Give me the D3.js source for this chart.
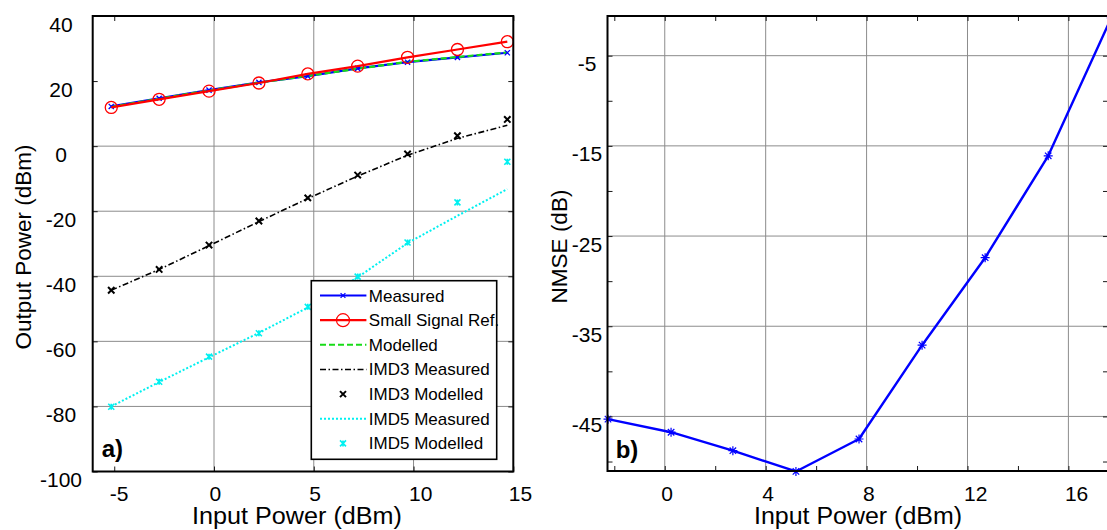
<!DOCTYPE html>
<html>
<head>
<meta charset="utf-8">
<script src="https://cdn.jsdelivr.net/npm/d3@7"></script>
<style>
  html, body { margin: 0; padding: 0; background: #fff; }
  svg { display: block; }
</style>
</head>
<body>
<svg id="chart" width="1107" height="530"></svg>
<script>
// ---- Panel a): output power vs input power (fundamental and intermodulation) ----
const inputPowerA   = [-5.15, -2.75, -0.25, 2.25, 4.7, 7.2, 9.7, 12.2, 14.7];
const measured      = [12.2, 14.7, 17.2, 19.6, 21.5, 23.9, 25.8, 27.3, 28.7];
const smallSignal   = [11.9, 14.4, 16.9, 19.4, 22.2, 24.6, 27.3, 29.7, 32.1];
const modelled      = [12.1, 14.6, 17.1, 19.5, 21.6, 23.8, 25.9, 27.4, 28.8];
const imd3Measured  = [-44.3, -37.9, -30.6, -23.2, -16.1, -9.2, -2.8, 2.4, 6.4];
const imd3Modelled  = [-44.3, -37.9, -30.4, -23.0, -15.9, -8.9, -2.4, 3.2, 8.2];
const imd5Measured  = [-80.0, -72.5, -64.9, -57.4, -49.6, -40.3, -29.8, -21.4, -13.2];
const imd5Modelled  = [-80.1, -72.4, -64.7, -57.5, -49.4, -40.1, -29.6, -17.3, -4.8];

// ---- Panel b): NMSE vs input power ----
const inputPowerB = [-2.25, 0.25, 2.7, 5.2, 7.7, 10.2, 12.7, 15.2, 17.7];
const nmse        = [-45.3, -46.75, -48.8, -51.1, -47.5, -37.1, -27.4, -16.1, -0.8];

// ---- Tick values and labels ----
const xTicksA  = [-5, 0, 5, 10, 15];
const xGridA   = [0, 5, 10];
const yTicksA  = [40, 20, 0, -20, -40, -60, -80, -100];
const yGridA   = [0, -20, -40, -60, -80];
const xTicksB  = [-2, 0, 2, 4, 6, 8, 10, 12, 14, 16];
const xLabelsB = [0, 4, 8, 12, 16];
const yTicksB  = [-5, -10, -15, -20, -25, -30, -35, -40, -45, -50];
const yLabelsB = [-5, -15, -25, -35, -45];

const legendLabels = ["Measured", "Small Signal Ref.", "Modelled", "IMD3 Measured",
                      "IMD3 Modelled", "IMD5 Measured", "IMD5 Modelled"];

const FONT = '"Liberation Sans", Arial, Helvetica, sans-serif';
const BLUE = "#0000ff", RED = "#ff0000", GREEN = "#18dc18", CYAN = "#00f0f0";

const svg = d3.select("#chart");

// scales
const xA = d3.scaleLinear().domain([-6.08, 15]).range([92.7, 513.3]);
const yA = d3.scaleLinear().domain([-100, 40]).range([471.5, 16]);
const xB = d3.scaleLinear().domain([-2.27, 17.57]).range([607.5, 1108]);
const yB = d3.scaleLinear().domain([-51.05, -0.6]).range([471, 16]);

// ---- helpers ----
function drawGrid(x, y, xg, yg) {
  const [x0, x1] = x.range(), [yb, yt] = y.range();
  const g = svg.append("g").attr("stroke", "#8c8c8c").attr("stroke-width", 1);
  g.selectAll(null).data(xg).join("line")
    .attr("x1", d => x(d)).attr("x2", d => x(d)).attr("y1", yt).attr("y2", yb);
  g.selectAll(null).data(yg).join("line")
    .attr("x1", x0).attr("x2", x1).attr("y1", d => y(d)).attr("y2", d => y(d));
}

function drawAxes(x, y, o) {
  const [x0, x1] = x.range(), [yb, yt] = y.range();
  const T = 5;
  const style = sel => {
    sel.attr("font-family", FONT).attr("font-size", 21);
    sel.select(".domain").remove();
    sel.selectAll(".tick line").attr("stroke", "#1a1a1a").attr("stroke-width", 1);
    sel.selectAll(".tick text").attr("fill", "#000");
  };
  // bottom
  svg.append("g").attr("transform", `translate(0,${yb})`)
    .call(d3.axisBottom(x).tickValues(o.xTicks).tickSizeInner(-T).tickSizeOuter(0)
      .tickFormat(d => o.xLabels.includes(d) ? String(d) : ""))
    .call(style)
    .call(g => g.selectAll(".tick text")
      .attr("y", o.xLabelBase - yb).attr("dy", null)
      .attr("x", o.xLabelShift).attr("text-anchor", "start"));
  // top
  svg.append("g").attr("transform", `translate(0,${yt})`)
    .call(d3.axisTop(x).tickValues(o.xTicks).tickSizeInner(-T).tickSizeOuter(0).tickFormat(""))
    .call(style);
  // left
  svg.append("g").attr("transform", `translate(${x0},0)`)
    .call(d3.axisLeft(y).tickValues(o.yTicks).tickSizeInner(-T).tickSizeOuter(0)
      .tickFormat(d => o.yLabels.includes(d) ? String(d) : ""))
    .call(style)
    .call(g => g.selectAll(".tick text")
      .attr("x", o.yLabelCenter - x0).attr("y", 15).attr("dy", null)
      .attr("text-anchor", "middle"));
  // right
  svg.append("g").attr("transform", `translate(${x1},0)`)
    .call(d3.axisRight(y).tickValues(o.yTicks).tickSizeInner(-T).tickSizeOuter(0).tickFormat(""))
    .call(style);
  // frame
  svg.append("rect").attr("x", x0).attr("y", yt).attr("width", x1 - x0).attr("height", yb - yt)
    .attr("fill", "none").attr("stroke", "#000").attr("stroke-width", 2);
}

function crossPath(cx, cy, s) {
  return `M${cx - s},${cy - s}L${cx + s},${cy + s}M${cx - s},${cy + s}L${cx + s},${cy - s}`;
}
function starPath(cx, cy, s) {
  const d = s * 0.72;
  return `M${cx - s},${cy}L${cx + s},${cy}M${cx},${cy - s}L${cx},${cy + s}` +
         `M${cx - d},${cy - d}L${cx + d},${cy + d}M${cx - d},${cy + d}L${cx + d},${cy - d}`;
}
function imd5Path(cx, cy, s) {
  return crossPath(cx, cy, s) + `M${cx},${cy - s}L${cx},${cy + s}`;
}

function series(x, y, xs, ys) { return xs.map((v, i) => [x(v), y(ys[i])]); }

function line(pts, color, width, dash) {
  svg.append("path").attr("d", d3.line()(pts)).attr("fill", "none")
    .attr("stroke", color).attr("stroke-width", width)
    .attr("stroke-dasharray", dash || null).attr("stroke-linejoin", "round");
}
function marks(pts, pathFn, size, color, width) {
  svg.append("g").selectAll(null).data(pts).join("path")
    .attr("d", p => pathFn(p[0], p[1], size)).attr("fill", "none")
    .attr("stroke", color).attr("stroke-width", width);
}
function circles(pts, r, color, width) {
  svg.append("g").selectAll(null).data(pts).join("circle")
    .attr("cx", p => p[0]).attr("cy", p => p[1]).attr("r", r)
    .attr("fill", "none").attr("stroke", color).attr("stroke-width", width);
}

// ================= Panel a) =================
drawGrid(xA, yA, xGridA, yGridA);

const dashDot = "6,2.5,1.5,2.5";
const dotted = "2,2";

const pImd5m = series(xA, yA, inputPowerA, imd5Measured);
const pImd5d = series(xA, yA, inputPowerA, imd5Modelled);
const pImd3m = series(xA, yA, inputPowerA, imd3Measured);
const pImd3d = series(xA, yA, inputPowerA, imd3Modelled);
const pMeas  = series(xA, yA, inputPowerA, measured);
const pMod   = series(xA, yA, inputPowerA, modelled);
const pRef   = series(xA, yA, inputPowerA, smallSignal);

line(pImd5m, CYAN, 2, dotted);
marks(pImd5d, imd5Path, 3, CYAN, 1.6);
line(pImd3m, "#000", 1.6, dashDot);
marks(pImd3d, crossPath, 3.2, "#000", 2);
line(pMeas, BLUE, 2.2);
line(pMod, GREEN, 2.2, "6,3");
marks(pMeas, crossPath, 2.6, BLUE, 1.3);
line(pRef, RED, 2.2);
circles(pRef, 6, RED, 1.3);

drawAxes(xA, yA, {
  xTicks: xTicksA, xLabels: xTicksA, yTicks: yTicksA, yLabels: yTicksA,
  xLabelBase: 500.5, xLabelShift: -5, yLabelCenter: 61
});

// legend
const lg = svg.append("g");
lg.append("rect").attr("x", 311.3).attr("y", 280.7).attr("width", 185.4).attr("height", 178.6)
  .attr("fill", "#fff").attr("stroke", "#000").attr("stroke-width", 1.6);
const legendStyle = [
  { color: BLUE,  line: true, dash: null,    width: 2.2, mark: "x",    ms: 2.4, mw: 1.2 },
  { color: RED,   line: true, dash: null,    width: 2.2, mark: "o",    ms: 6.5, mw: 1.2 },
  { color: GREEN, line: true, dash: "6,3",   width: 2,   mark: null },
  { color: "#000",line: true, dash: dashDot, width: 1.6, mark: null },
  { color: "#000",line: false,               mark: "x",  ms: 3,   mw: 2 },
  { color: CYAN,  line: true, dash: dotted,  width: 2,   mark: null },
  { color: CYAN,  line: false,               mark: "c",  ms: 3,   mw: 1.6 }
];
legendLabels.forEach((label, i) => {
  const cy = 295.5 + i * 24.65;
  const st = legendStyle[i];
  if (st.line) {
    lg.append("line").attr("x1", 320).attr("x2", 366.4).attr("y1", cy).attr("y2", cy)
      .attr("stroke", st.color).attr("stroke-width", st.width).attr("stroke-dasharray", st.dash);
  }
  if (st.mark === "o") {
    lg.append("circle").attr("cx", 343).attr("cy", cy).attr("r", st.ms)
      .attr("fill", "none").attr("stroke", st.color).attr("stroke-width", st.mw);
  } else if (st.mark) {
    const fn = st.mark === "x" ? crossPath : imd5Path;
    lg.append("path").attr("d", fn(343, cy, st.ms)).attr("fill", "none")
      .attr("stroke", st.color).attr("stroke-width", st.mw);
  }
  lg.append("text").attr("x", 368.8).attr("y", cy + 6)
    .attr("font-family", FONT).attr("font-size", 17).attr("fill", "#000").text(label);
});

svg.append("text").attr("x", 101.7).attr("y", 456.5)
  .attr("font-family", FONT).attr("font-size", 24).attr("font-weight", "bold").text("a)");

svg.append("text").attr("x", 297).attr("y", 524).attr("text-anchor", "middle")
  .attr("font-family", FONT).attr("font-size", 23)
  .attr("textLength", 210).attr("lengthAdjust", "spacingAndGlyphs").text("Input Power (dBm)");
svg.append("text").attr("transform", "translate(30.5,247) rotate(-90)").attr("text-anchor", "middle")
  .attr("font-family", FONT).attr("font-size", 22.5).text("Output Power (dBm)");

// ================= Panel b) =================
drawGrid(xB, yB, xLabelsB, yLabelsB);

const pN = series(xB, yB, inputPowerB, nmse);
line(pN, BLUE, 2.4);
marks(pN, starPath, 4.5, BLUE, 1.2);

drawAxes(xB, yB, {
  xTicks: xTicksB, xLabels: xLabelsB, yTicks: yTicksB, yLabels: yLabelsB,
  xLabelBase: 500.5, xLabelShift: -4, yLabelCenter: 587
});

svg.append("text").attr("x", 615.7).attr("y", 458)
  .attr("font-family", FONT).attr("font-size", 24).attr("font-weight", "bold").text("b)");

svg.append("text").attr("x", 858).attr("y", 524).attr("text-anchor", "middle")
  .attr("font-family", FONT).attr("font-size", 23)
  .attr("textLength", 208).attr("lengthAdjust", "spacingAndGlyphs").text("Input Power (dBm)");
svg.append("text").attr("transform", "translate(567,246.5) rotate(-90)").attr("text-anchor", "middle")
  .attr("font-family", FONT).attr("font-size", 22.5).text("NMSE (dB)");
</script>
</body>
</html>
